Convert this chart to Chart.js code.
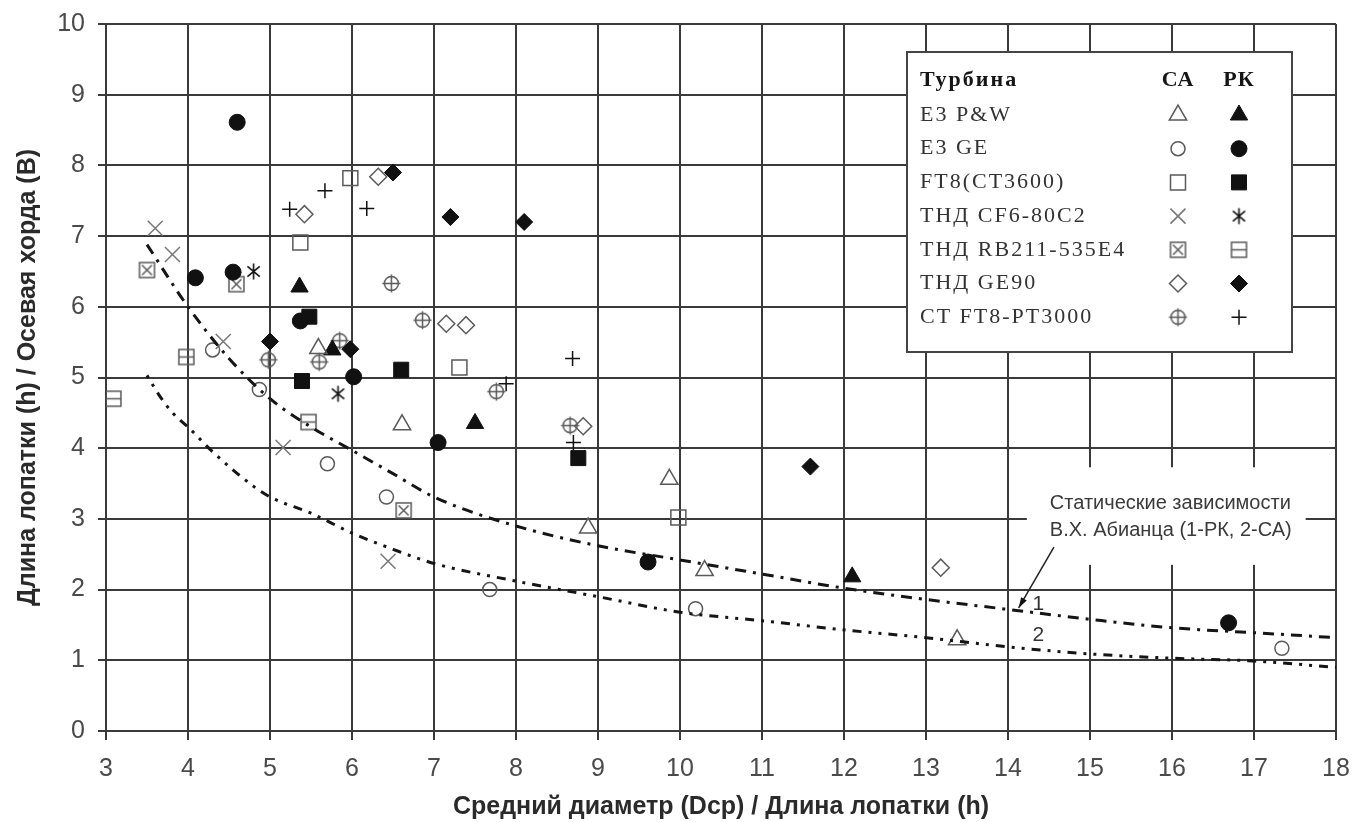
<!DOCTYPE html>
<html>
<head>
<meta charset="utf-8">
<script src="https://cdn.jsdelivr.net/npm/chart.js@4.4.1/dist/chart.umd.min.js"></script>
<style>
    html, body { margin: 0; padding: 0; background: #fff; }
    #chart_abianc { display: block; }
</style>
</head>
<body>
<canvas id="chart_abianc" width="1352" height="822"></canvas>
<script>
// --- данные (x = Dcp/h, y = h/B) ---
const e3pwCA = [[5.59, 5.41], [6.61, 4.33], [8.88, 2.87], [9.87, 3.56], [10.3, 2.27], [13.38, 1.29]];
const e3pwRK = [[5.36, 6.28], [5.76, 5.39], [7.5, 4.35], [12.1, 2.18]];
const e3geCA = [[4.3, 5.39], [4.87, 4.83], [5.7, 3.78], [6.42, 3.31], [7.68, 2.0], [10.19, 1.73], [17.34, 1.17]];
const e3geRK = [[4.09, 6.41], [4.55, 6.49], [4.6, 8.61], [5.37, 5.8], [6.02, 5.01], [7.05, 4.08], [9.61, 2.39], [16.69, 1.53]];
const ft8CA = [[5.37, 6.91], [5.98, 7.82], [7.31, 5.14], [9.98, 3.02]];
const ft8RK = [[5.39, 4.95], [5.48, 5.86], [6.6, 5.11], [8.76, 3.86]];
const cf6CA = [[3.6, 7.11], [3.81, 6.74], [4.43, 5.51], [5.16, 4.01], [6.44, 2.4]];
const cf6RK = [[4.8, 6.5], [5.83, 4.77]];
const rb211CA = [[3.5, 6.52], [4.59, 6.32], [6.63, 3.12]];
const rb211RK = [[3.09, 4.7], [3.98, 5.29], [5.47, 4.37]];
const ge90CA = [[5.42, 7.31], [6.32, 7.84], [7.15, 5.76], [7.39, 5.74], [8.82, 4.31], [13.18, 2.31]];
const ge90RK = [[5.0, 5.51], [5.98, 5.4], [6.5, 7.9], [7.2, 7.27], [8.1, 7.2], [11.59, 3.74]];
const pt3000CA = [[4.98, 5.25], [5.6, 5.22], [5.85, 5.52], [6.48, 6.33], [6.86, 5.81], [7.76, 4.8], [8.66, 4.32]];
const pt3000RK = [[5.24, 7.38], [5.67, 7.64], [6.18, 7.39], [7.88, 4.91], [8.69, 5.27], [8.7, 4.08]];

// статические зависимости В.Х. Абианца
const curve1X = [3.5, 4, 4.5, 5, 5.5, 6, 6.5, 7, 8, 9, 10, 11, 12, 13, 14, 15, 16, 17, 18];
const curve1Y = [6.88, 6.0, 5.27, 4.7, 4.3, 3.97, 3.64, 3.31, 2.9, 2.62, 2.42, 2.22, 2.02, 1.86, 1.72, 1.58, 1.46, 1.39, 1.32];
const curve2X = [3.5, 3.66, 3.82, 4, 4.3, 4.8, 5, 5.5, 6, 6.5, 7, 8, 9, 10, 11, 12, 13, 14, 15, 16, 17, 18];
const curve2Y = [5.03, 4.73, 4.49, 4.3, 3.95, 3.46, 3.31, 3.08, 2.8, 2.57, 2.37, 2.12, 1.9, 1.68, 1.56, 1.43, 1.32, 1.19, 1.09, 1.03, 0.99, 0.9];

const legendTitle = 'Турбина';
const legendCols = ['СА', 'РК'];
const legendNames = ['E3 P&W', 'E3 GE', 'FT8(CT3600)', 'ТНД CF6-80C2', 'ТНД RB211-535E4', 'ТНД GE90', 'CT FT8-PT3000'];
const xTitle = 'Средний диаметр (Dcp) / Длина лопатки (h)';
const yTitle = 'Длина лопатки (h) / Осевая хорда (B)';
const noteLines = ['Статические зависимости', 'В.Х. Абианца (1-РК, 2-СА)'];

const GRID = '#3a3a3a';
const OPEN = '#5a5a5a';
const FILL = '#111';

// маркеры, которых нет в Chart.js
function makeIcon(kind)
{
    const s = 21, h = s / 2;
    const c = document.createElement('canvas');
    c.width = s; c.height = s;
    const g = c.getContext('2d');
    g.strokeStyle = OPEN;
    g.lineWidth = 1.5;
    g.beginPath();
    if (kind === 'boxX') {
        const a = 7.5;
        g.rect(h - a, h - a, 2 * a, 2 * a);
        g.moveTo(h - a + 2.5, h - a + 2.5); g.lineTo(h + a - 2.5, h + a - 2.5);
        g.moveTo(h + a - 2.5, h - a + 2.5); g.lineTo(h - a + 2.5, h + a - 2.5);
    } else if (kind === 'boxLine') {
        const a = 7.5;
        g.rect(h - a, h - a, 2 * a, 2 * a);
        g.moveTo(h - a, h); g.lineTo(h + a, h);
    } else if (kind === 'circPlus') {
        g.arc(h, h, 7, 0, Math.PI * 2);
        g.moveTo(h - 9, h); g.lineTo(h + 9, h);
        g.moveTo(h, h - 9); g.lineTo(h, h + 9);
    } else if (kind === 'asterisk') {
        g.strokeStyle = FILL;
        g.lineWidth = 1.6;
        const r = 8;
        [90, 40, -40].forEach(function (deg) {
            const t = deg * Math.PI / 180;
            g.moveTo(h - r * Math.cos(t), h + r * Math.sin(t));
            g.lineTo(h + r * Math.cos(t), h - r * Math.sin(t));
        });
    }
    g.stroke();
    return c;
}

const icoBoxX = makeIcon('boxX');
const icoBoxLine = makeIcon('boxLine');
const icoCircPlus = makeIcon('circPlus');
const icoAsterisk = makeIcon('asterisk');

function openStyle(style, radius, color)
{
    return {pointStyle: style, pointRadius: radius, borderColor: color || OPEN, backgroundColor: 'rgba(0,0,0,0)', borderWidth: 1.5};
}
function fillStyle(style, radius)
{
    return {pointStyle: style, pointRadius: radius, borderColor: FILL, backgroundColor: FILL, borderWidth: 1};
}

// [СА, РК] для каждой турбины
const seriesPairs = [
    [e3pwCA, openStyle('triangle', 10), e3pwRK, fillStyle('triangle', 10)],
    [e3geCA, openStyle('circle', 7), e3geRK, fillStyle('circle', 8)],
    [ft8CA, openStyle('rect', 10.6), ft8RK, fillStyle('rect', 10.6)],
    [cf6CA, openStyle('crossRot', 10.6, '#777'), cf6RK, openStyle(icoAsterisk, 8, FILL)],
    [rb211CA, openStyle(icoBoxX, 8), rb211RK, openStyle(icoBoxLine, 8)],
    [ge90CA, openStyle('rectRot', 8.5), ge90RK, fillStyle('rectRot', 8.5)],
    [pt3000CA, openStyle(icoCircPlus, 8), pt3000RK, openStyle('cross', 7.5, FILL)]
];

function toPoints(arr)
{
    return arr.map(function (p) { return {x: p[0], y: p[1]}; });
}
function zipCurve(xs, ys)
{
    return xs.map(function (x, i) { return {x: x, y: ys[i]}; });
}

let datasets = [
    {
        type: 'line', label: '1', data: zipCurve(curve1X, curve1Y),
        borderColor: '#151515', borderWidth: 3, borderDash: [11, 7, 3, 7],
        pointRadius: 0, fill: false, cubicInterpolationMode: 'monotone'
    },
    {
        type: 'line', label: '2', data: zipCurve(curve2X, curve2Y),
        borderColor: '#151515', borderWidth: 3, borderDash: [3, 7, 3, 7, 9, 7],
        pointRadius: 0, fill: false, cubicInterpolationMode: 'monotone'
    }
];
seriesPairs.forEach(function (s, i) {
    datasets.push(Object.assign({label: legendNames[i] + ' СА', data: toPoints(s[0])}, s[1]));
    datasets.push(Object.assign({label: legendNames[i] + ' РК', data: toPoints(s[2])}, s[3]));
});

function drawBackground(chart)
{
    const ctx = chart.ctx;
    ctx.save();
    ctx.fillStyle = 'white';
    ctx.fillRect(0, 0, chart.width, chart.height);
    ctx.restore();
}

// подпись "Статические зависимости" со стрелкой
function drawNote(chart)
{
    const ctx = chart.ctx, sx = chart.scales.x, sy = chart.scales.y;
    ctx.save();
    ctx.fillStyle = 'white';
    const bx = sx.getPixelForValue(14.23), by = sy.getPixelForValue(3.73);
    ctx.fillRect(bx, by, sx.getPixelForValue(17.63) - bx, sy.getPixelForValue(2.35) - by);
    ctx.fillStyle = '#3a3a3a';
    ctx.font = '20px "Liberation Sans", Arial, sans-serif';
    ctx.textAlign = 'left';
    ctx.textBaseline = 'middle';
    ctx.fillText(noteLines[0], sx.getPixelForValue(14.51), sy.getPixelForValue(3.22));
    ctx.fillText(noteLines[1], sx.getPixelForValue(14.51), sy.getPixelForValue(2.84));

    const x0 = sx.getPixelForValue(14.56), y0 = sy.getPixelForValue(2.6);
    const x1 = sx.getPixelForValue(14.13), y1 = sy.getPixelForValue(1.74);
    ctx.strokeStyle = '#222';
    ctx.lineWidth = 1.5;
    ctx.beginPath();
    ctx.moveTo(x0, y0);
    ctx.lineTo(x1, y1);
    ctx.stroke();
    const ang = Math.atan2(y1 - y0, x1 - x0);
    ctx.fillStyle = '#111';
    ctx.beginPath();
    ctx.moveTo(x1, y1);
    ctx.lineTo(x1 - 11 * Math.cos(ang - 0.3), y1 - 11 * Math.sin(ang - 0.3));
    ctx.lineTo(x1 - 11 * Math.cos(ang + 0.3), y1 - 11 * Math.sin(ang + 0.3));
    ctx.closePath();
    ctx.fill();

    ctx.fillStyle = '#333';
    ctx.font = '21px "Liberation Sans", Arial, sans-serif';
    ctx.textAlign = 'center';
    ctx.fillText('1', sx.getPixelForValue(14.37), sy.getPixelForValue(1.8));
    ctx.fillText('2', sx.getPixelForValue(14.37), sy.getPixelForValue(1.35));
    ctx.restore();
}

// таблица-легенда в правом верхнем углу
function drawLegendTable(chart)
{
    const ctx = chart.ctx, ca = chart.chartArea;
    const left = ca.right - 429, top = ca.top + 28, w = 385, h = 300;
    const colCA = left + 271, colRK = left + 332;
    ctx.save();
    ctx.fillStyle = 'white';
    ctx.fillRect(left, top, w, h);
    ctx.strokeStyle = '#444';
    ctx.lineWidth = 2;
    ctx.strokeRect(left, top, w, h);

    ctx.textBaseline = 'middle';
    ctx.letterSpacing = '2px';
    ctx.fillStyle = '#151515';
    ctx.font = 'bold 22px "Liberation Serif", "Times New Roman", serif';
    ctx.textAlign = 'left';
    ctx.fillText(legendTitle, left + 13, top + 28);
    ctx.letterSpacing = '1px';
    ctx.textAlign = 'center';
    ctx.fillText(legendCols[0], colCA, top + 28);
    ctx.fillText(legendCols[1], colRK, top + 28);

    ctx.letterSpacing = '2px';
    ctx.font = '22px "Liberation Serif", "Times New Roman", serif';
    ctx.textAlign = 'left';
    legendNames.forEach(function (name, i) {
        const y = top + 63 + i * 33.7;
        ctx.fillStyle = '#333';
        ctx.fillText(name, left + 13, y);
        const pair = seriesPairs[i];
        [[pair[1], colCA], [pair[3], colRK]].forEach(function (m) {
            const st = m[0];
            ctx.fillStyle = st.backgroundColor;
            ctx.strokeStyle = st.borderColor;
            ctx.lineWidth = st.borderWidth;
            Chart.helpers.drawPoint(ctx, {
                pointStyle: st.pointStyle, radius: st.pointRadius, rotation: 0, borderWidth: st.borderWidth
            }, m[1], y);
        });
    });
    ctx.restore();
}

// фиксированные размеры осей, без подгонки под крайние подписи
function fixedWidth(px) {
    return function (scale) { scale.width = px; scale.paddingTop = 0; scale.paddingBottom = 0; };
}
function fixedHeight(px) {
    return function (scale) { scale.height = px; scale.paddingLeft = 0; scale.paddingRight = 0; };
}

const tickFont = {family: '"Liberation Sans", Arial, sans-serif', size: 25};
const titleFont = {family: '"Liberation Sans", Arial, sans-serif', size: 25, weight: 'bold'};

new Chart(document.getElementById('chart_abianc'), {
    type: 'scatter',
    data: {datasets: datasets},
    options: {
        responsive: false,
        animation: false,
        devicePixelRatio: 1,
        layout: {padding: {top: 24, right: 16, left: 0, bottom: 0}},
        scales: {
            x: {
                type: 'linear', min: 3, max: 18,
                afterFit: fixedHeight(91),
                ticks: {stepSize: 1, font: tickFont, color: '#4a4a4a', padding: 14},
                grid: {color: GRID, lineWidth: 2, tickLength: 9, tickColor: GRID},
                border: {color: GRID, width: 2},
                title: {display: true, text: xTitle, font: titleFont, color: '#2a2a2a', padding: {top: 0, bottom: 0}}
            },
            y: {
                min: 0, max: 10,
                afterFit: fixedWidth(106),
                ticks: {stepSize: 1, font: tickFont, color: '#4a4a4a', padding: 13},
                grid: {color: GRID, lineWidth: 2, tickLength: 8, tickColor: GRID},
                border: {color: GRID, width: 2},
                title: {display: true, text: yTitle, font: titleFont, color: '#2a2a2a', padding: {top: 13, bottom: 0}}
            }
        },
        plugins: {
            legend: {display: false},
            tooltip: {enabled: false}
        }
    },
    plugins: [
        {id: 'bg', beforeDraw: drawBackground},
        {id: 'note', beforeDatasetsDraw: drawNote},
        {id: 'legendTable', afterDatasetsDraw: drawLegendTable}
    ]
});
</script>
</body>
</html>
